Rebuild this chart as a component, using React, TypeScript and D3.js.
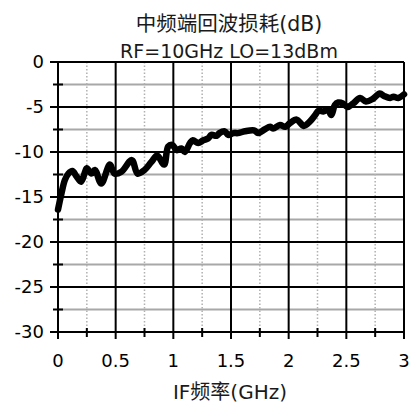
import React from "react";
import * as d3 from "d3";

// IF port return loss measured at RF = 10 GHz, LO = 13 dBm
const freqGHz = [
  0.0, 0.03, 0.06, 0.09, 0.125, 0.16, 0.2, 0.235, 0.25, 0.29, 0.32, 0.375, 0.45, 0.49,
  0.55, 0.64, 0.69, 0.75, 0.81, 0.86, 0.92, 0.955, 0.99, 1.03, 1.07, 1.1, 1.145, 1.17,
  1.215, 1.26, 1.3, 1.33, 1.375, 1.4, 1.445, 1.475, 1.52, 1.56, 1.62, 1.7, 1.735, 1.79,
  1.84, 1.865, 1.925, 1.97, 2.01, 2.07, 2.13, 2.185, 2.23, 2.26, 2.3, 2.34, 2.37, 2.4,
  2.43, 2.47, 2.51, 2.56, 2.62, 2.67, 2.73, 2.79, 2.83, 2.88, 2.91, 2.95, 3.0,
];
const returnLossDb = [
  -16.4, -14.6, -13.1, -12.4, -12.1, -12.7, -13.3, -12.2, -11.8, -12.4, -12.0, -13.5,
  -11.4, -12.4, -12.2, -10.9, -12.4, -12.0, -11.1, -10.4, -11.4, -9.4, -9.2, -9.8, -9.6,
  -10.0, -9.0, -8.7, -9.0, -8.7, -8.5, -8.1, -8.2, -7.9, -7.7, -8.1, -7.9, -7.9, -7.7,
  -7.6, -7.9, -7.5, -7.2, -7.4, -7.0, -7.2, -6.8, -6.4, -7.1, -6.6, -5.9, -5.4, -5.5,
  -5.3, -5.9, -4.8, -4.5, -4.6, -5.0, -4.6, -4.0, -4.4, -4.1, -3.5, -3.8, -4.0, -3.85,
  -4.0, -3.6,
];

const xTicks = [0, 0.5, 1, 1.5, 2, 2.5, 3];
const xTickLabels = ["0", "0.5", "1", "1.5", "2", "2.5", "3"];
const xMinorTicks = [0.25, 0.75, 1.25, 1.75, 2.25, 2.75];
const yTicks = [0, -5, -10, -15, -20, -25, -30];
const yMinorTicks = [-2.5, -7.5, -12.5, -17.5, -22.5, -27.5];

const titleLines = ["中频端回波损耗(dB)", "RF=10GHz LO=13dBm"];
const xAxisTitle = "IF频率(GHz)";

const W = 412;
const H = 405;
const left = 58;
const right = 404;
const top = 62;
const bottom = 332;
const font = "'DejaVu Sans', 'Noto Sans CJK SC', sans-serif";

export default function App() {
  const x = d3.scaleLinear().domain([0, 3]).range([left, right]);
  const y = d3.scaleLinear().domain([-30, 0]).range([bottom, top]);

  const pts: [number, number][] = freqGHz.map((f, i) => [f, returnLossDb[i]]);
  const line = d3
    .line<[number, number]>()
    .x((d) => x(d[0]))
    .y((d) => y(d[1]))
    .curve(d3.curveCatmullRom.alpha(0.5));

  return (
    <svg
      width={W}
      height={H}
      style={{ position: "absolute", left: 0, top: 0, background: "#fff" }}
      fontFamily={font}
    >
      {/* minor grid */}
      {yMinorTicks.map((v) => (
        <line key={"ym" + v} x1={left} x2={right} y1={y(v)} y2={y(v)} stroke="#a8a8a8" strokeWidth={2} />
      ))}
      {xMinorTicks.map((v) => (
        <line
          key={"xm" + v}
          x1={x(v)}
          x2={x(v)}
          y1={top}
          y2={bottom}
          stroke="#b0b0b0"
          strokeWidth={1.5}
          strokeDasharray="1.5,2"
        />
      ))}
      {/* major grid */}
      {yTicks.map((v) => (
        <line key={"yg" + v} x1={left} x2={right} y1={y(v)} y2={y(v)} stroke="#000" strokeWidth={2} />
      ))}
      {xTicks.map((v) => (
        <line key={"xg" + v} x1={x(v)} x2={x(v)} y1={top} y2={bottom} stroke="#000" strokeWidth={2} />
      ))}
      {/* ticks */}
      {yTicks.map((v) => (
        <line key={"yt" + v} x1={left - 8} x2={left} y1={y(v)} y2={y(v)} stroke="#000" strokeWidth={2} />
      ))}
      {yMinorTicks.map((v) => (
        <line key={"ymt" + v} x1={left - 5} x2={left + 5} y1={y(v)} y2={y(v)} stroke="#000" strokeWidth={2} />
      ))}
      {xTicks.map((v) => (
        <line key={"xt" + v} x1={x(v)} x2={x(v)} y1={bottom} y2={bottom + 7} stroke="#000" strokeWidth={2} />
      ))}
      {xMinorTicks.map((v) => (
        <line key={"xmt" + v} x1={x(v)} x2={x(v)} y1={bottom - 4} y2={bottom + 5} stroke="#000" strokeWidth={2} />
      ))}

      {/* tick labels */}
      {yTicks.map((v) => (
        <text key={"yl" + v} x={left - 14} y={y(v)} dy="0.36em" textAnchor="end" fontSize={18} fill="#000">
          {String(v)}
        </text>
      ))}
      {xTicks.map((v, i) => (
        <text key={"xl" + v} x={x(v)} y={367} textAnchor="middle" fontSize={18} fill="#000">
          {xTickLabels[i]}
        </text>
      ))}

      {/* data */}
      <path
        d={line(pts) ?? ""}
        fill="none"
        stroke="#000"
        strokeWidth={6.5}
        strokeLinejoin="round"
        strokeLinecap="round"
      />

      {/* titles */}
      <text x={229} y={31} textAnchor="middle" fontSize={20.5} fill="#1a1a1a">
        {titleLines[0]}
      </text>
      <text x={229} y={58} textAnchor="middle" fontSize={19} fill="#1a1a1a">
        {titleLines[1]}
      </text>
      <text x={230} y={399} textAnchor="middle" fontSize={20} fill="#1a1a1a">
        {xAxisTitle}
      </text>
    </svg>
  );
}
